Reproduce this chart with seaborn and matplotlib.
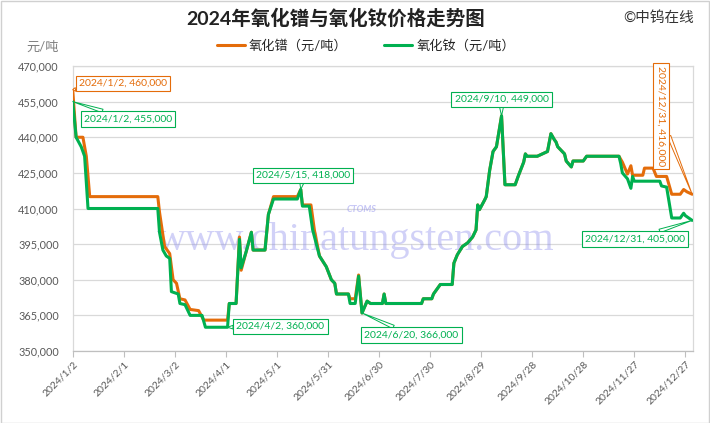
import matplotlib
matplotlib.use("Agg")
import matplotlib.pyplot as plt
import matplotlib.ticker as mticker
from matplotlib.patches import Rectangle
import seaborn as sns
import pandas as pd

# ---------------- data ----------------
title = "2024年氧化镨与氧化钕价格走势图"
series_names = ["氧化镨（元/吨）", "氧化钕（元/吨）"]

pr_dates = [
    "2024-01-02", "2024-01-04", "2024-01-08", "2024-01-10", "2024-01-12",
    "2024-02-21", "2024-02-22", "2024-02-25", "2024-02-28", "2024-03-01", "2024-03-03",
    "2024-03-05", "2024-03-08", "2024-03-11", "2024-03-16", "2024-03-19",
    "2024-04-02", "2024-04-03", "2024-04-07", "2024-04-09", "2024-04-10", "2024-04-13",
    "2024-04-16", "2024-04-17", "2024-04-24", "2024-04-26", "2024-04-29",
    "2024-05-13", "2024-05-15", "2024-05-16", "2024-05-21", "2024-05-23", "2024-05-26", "2024-05-30",
    "2024-06-02", "2024-06-04", "2024-06-05", "2024-06-12", "2024-06-13", "2024-06-16",
    "2024-06-18", "2024-06-20", "2024-06-23", "2024-06-25",
    "2024-07-02", "2024-07-03", "2024-07-04", "2024-07-25", "2024-07-26", "2024-07-31",
    "2024-08-01", "2024-08-05", "2024-08-12", "2024-08-13", "2024-08-15", "2024-08-18",
    "2024-08-21", "2024-08-24", "2024-08-26", "2024-08-27", "2024-08-28", "2024-08-31",
    "2024-09-01", "2024-09-03", "2024-09-05", "2024-09-07", "2024-09-10", "2024-09-12",
    "2024-09-18", "2024-09-20", "2024-09-23", "2024-09-24", "2024-09-25",
    "2024-10-01", "2024-10-07", "2024-10-09", "2024-10-11", "2024-10-12", "2024-10-13",
    "2024-10-17", "2024-10-18", "2024-10-21", "2024-10-22", "2024-10-28", "2024-10-30",
    "2024-11-18", "2024-11-20", "2024-11-23", "2024-11-25", "2024-11-26", "2024-12-02",
    "2024-12-03", "2024-12-08", "2024-12-10", "2024-12-16", "2024-12-19", "2024-12-24",
    "2024-12-26", "2024-12-28", "2024-12-31",
]
pr_prices = [
    460000, 440000, 440000, 432000, 415000,
    415000, 408500, 394000, 391000, 380000, 378500,
    372000, 371500, 367500, 367000, 363000,
    363000, 370000, 370000, 398000, 384000, 392000,
    400000, 392500, 392500, 407500, 415000,
    415000, 418000, 411500, 411500, 401000, 390000, 385500,
    380000, 378500, 374000, 374000, 372000, 372000,
    382000, 366000, 371000, 370000,
    370000, 374000, 370000, 370000, 372000, 372000,
    374000, 378000, 378000, 387000, 390500, 394000,
    395500, 398000, 401000, 411500, 409500, 413500,
    415000, 426000, 434000, 436000, 449000, 420000,
    420000, 424000, 429500, 433000, 432000,
    432000, 434000, 441500, 439000, 438000, 436000,
    433000, 430000, 427500, 430000, 430000, 432000,
    432000, 429500, 424500, 428000, 424000, 424000,
    427000, 427000, 423500, 423500, 416000, 416000,
    418000, 417000, 416000,
]

nd_dates = [
    "2024-01-02", "2024-01-04", "2024-01-07", "2024-01-09", "2024-01-11",
    "2024-02-21", "2024-02-22", "2024-02-24", "2024-02-26", "2024-02-28", "2024-02-29",
    "2024-03-04", "2024-03-05", "2024-03-08", "2024-03-11", "2024-03-18", "2024-03-20",
    "2024-04-02", "2024-04-03", "2024-04-07", "2024-04-09", "2024-04-10", "2024-04-13",
    "2024-04-16", "2024-04-17", "2024-04-24", "2024-04-26", "2024-04-29",
    "2024-05-13", "2024-05-15", "2024-05-16", "2024-05-20", "2024-05-22", "2024-05-26", "2024-05-30",
    "2024-06-02", "2024-06-04", "2024-06-05", "2024-06-12", "2024-06-13", "2024-06-16",
    "2024-06-18", "2024-06-20", "2024-06-23", "2024-06-25",
    "2024-07-02", "2024-07-03", "2024-07-04", "2024-07-25", "2024-07-26", "2024-07-31",
    "2024-08-01", "2024-08-05", "2024-08-12", "2024-08-13", "2024-08-15", "2024-08-18",
    "2024-08-21", "2024-08-24", "2024-08-26", "2024-08-27", "2024-08-28", "2024-08-31",
    "2024-09-01", "2024-09-03", "2024-09-05", "2024-09-07", "2024-09-10", "2024-09-12",
    "2024-09-18", "2024-09-20", "2024-09-23", "2024-09-24", "2024-09-25",
    "2024-10-01", "2024-10-07", "2024-10-09", "2024-10-11", "2024-10-12", "2024-10-13",
    "2024-10-17", "2024-10-18", "2024-10-21", "2024-10-22", "2024-10-28", "2024-10-30",
    "2024-11-18", "2024-11-19", "2024-11-20", "2024-11-23", "2024-11-25", "2024-11-26", "2024-11-27",
    "2024-12-12", "2024-12-13", "2024-12-16", "2024-12-19", "2024-12-24", "2024-12-26",
    "2024-12-27", "2024-12-30", "2024-12-31",
]
nd_prices = [
    455000, 440000, 436000, 432000, 410000,
    410000, 400000, 392500, 390000, 389000, 375000,
    374000, 370000, 369500, 365000, 365000, 360000,
    360000, 370000, 370000, 397000, 385000, 392000,
    400000, 392500, 392500, 407500, 414000,
    414000, 418000, 411000, 411000, 401000, 390000, 385500,
    380000, 378500, 374000, 374000, 370000, 370000,
    381500, 366000, 371000, 370000,
    370000, 374000, 370000, 370000, 372000, 372000,
    374000, 378000, 378000, 387000, 390500, 394000,
    395500, 398000, 401000, 411500, 409500, 413500,
    415000, 426000, 434000, 436000, 449000, 420000,
    420000, 424000, 429500, 433000, 432000,
    432000, 434000, 441500, 439000, 438000, 436000,
    433000, 430000, 427500, 430000, 430000, 432000,
    432000, 429000, 425000, 422500, 418500, 423500, 421500,
    421500, 419500, 419000, 406000, 406000, 408000,
    407000, 405500, 405000,
]

x_tick_dates = ["2024-01-02", "2024-02-01", "2024-03-02", "2024-04-01", "2024-05-01",
                "2024-05-31", "2024-06-30", "2024-07-30", "2024-08-29", "2024-09-28",
                "2024-10-28", "2024-11-27", "2024-12-27"]
x_tick_labels = ["2024/1/2", "2024/2/1", "2024/3/2", "2024/4/1", "2024/5/1",
                 "2024/5/31", "2024/6/30", "2024/7/30", "2024/8/29", "2024/9/28",
                 "2024/10/28", "2024/11/27", "2024/12/27"]
y_ticks = [350000, 365000, 380000, 395000, 410000, 425000, 440000, 455000, 470000]

# labelled points
pr_labels = ["2024-01-02", "2024-12-31"]
nd_labels = ["2024-01-02", "2024-04-02", "2024-05-15", "2024-06-20", "2024-09-10", "2024-12-31"]

# ---------------- style ----------------
ORANGE = "#E46C0A"
GREEN = "#00B050"
GRID = "#D9D9D9"
TXT = "#595959"

sns.set_theme(style="white")
plt.rcParams["font.family"] = ["Lato", "Noto Sans CJK SC", "DejaVu Sans"]

W, H = 710, 423
fig = plt.figure(figsize=(W / 100, H / 100), dpi=100)
fig.patch.set_facecolor("white")
ax = fig.add_axes([72.7 / W, 1 - 351 / H, (693 - 72.7) / W, (351 - 66) / H])

df_pr = pd.DataFrame({"date": pd.to_datetime(pr_dates), "price": pr_prices})
df_nd = pd.DataFrame({"date": pd.to_datetime(nd_dates), "price": nd_prices})

sns.lineplot(data=df_pr, x="date", y="price", color=ORANGE, linewidth=2.2, ax=ax,
             label=series_names[0], zorder=3)
sns.lineplot(data=df_nd, x="date", y="price", color=GREEN, linewidth=2.2, ax=ax,
             label=series_names[1], zorder=4)

ax.set_xlim(pd.Timestamp("2024-01-02"), pd.Timestamp("2024-12-31 12:00"))
ax.set_ylim(y_ticks[0], y_ticks[-1])
ax.set_yticks(y_ticks)
ax.yaxis.set_major_formatter(mticker.FuncFormatter(lambda v, p: f"{v:,.0f}"))
ax.set_xticks(pd.to_datetime(x_tick_dates))
ax.set_xticklabels(x_tick_labels, rotation=45, ha="right", rotation_mode="anchor")
ax.set_xlabel("")
ax.set_ylabel("")

ax.grid(axis="y", color=GRID, linewidth=0.9)
ax.grid(axis="x", visible=False)
for s in ax.spines.values():
    s.set_color(GRID)
    s.set_linewidth(0.9)
ax.spines["bottom"].set_color("#BFBFBF")
ax.tick_params(axis="y", length=0, labelsize=7.8, labelcolor=TXT, pad=10)
ax.tick_params(axis="x", length=4, width=0.8, color="#BFBFBF", direction="out",
               labelsize=7.5, labelcolor=TXT, pad=2, bottom=True)

# legend
ax.legend(loc="center", bbox_to_anchor=(366 / W, 1 - 45 / H),
          bbox_transform=fig.transFigure, ncol=2, frameon=False,
          fontsize=9.5, handlelength=2.1, handletextpad=0.3, columnspacing=2.8)

# titles / texts
fig.text(336 / W, 1 - 18 / H, title, ha="center", va="center", fontsize=14,
         fontweight="bold", color="#222222")
fig.text(694 / W, 1 - 18 / H, "©中钨在线", ha="right", va="center", fontsize=10.5,
         color="#333333")
fig.text(43 / W, 1 - 47 / H, "元/吨", ha="center", va="center", fontsize=9.5, color="#7F7F7F")

# watermark
ax.text(356 / W, 1 - 240 / H, "www.chinatungsten.com", transform=fig.transFigure,
        ha="center", va="center", fontsize=29, family="Liberation Serif",
        color="#8C8CEC", alpha=0.4, zorder=1)
ax.text(362 / W, 1 - 209 / H, "CTOMS", transform=fig.transFigure, ha="center",
        va="center", fontsize=6.5, fontweight="bold", style="italic",
        color="#8C8CEC", alpha=0.5, zorder=1)

# data labels
def callout(date, series_df, color, pos, rot=0):
    d = pd.Timestamp(date)
    v = series_df.loc[series_df["date"] == d, "price"].iloc[0]
    txt = f"{d.year}/{d.month}/{d.day}, {v:,.0f}"
    ax.annotate(txt, xy=(d, v), xytext=(pos[0], H - pos[1]), textcoords="figure pixels",
                ha="center", va="center", fontsize=7.5, color=color, rotation=rot,
                bbox=dict(boxstyle="square,pad=0.3", fc="white", ec=color, lw=0.8),
                arrowprops=dict(arrowstyle="wedge,tail_width=0.35", fc="white", ec=color,
                                lw=0.7, shrinkA=0, shrinkB=0),
                zorder=6, annotation_clip=False)

label_pos_pr = [(123, 83.5), (661, 116)]
label_pos_nd = [(128, 119), (280.5, 326.5), (303, 175.5), (411.5, 335), (501.5, 99.5), (635, 239)]

callout(pr_labels[0], df_pr, ORANGE, label_pos_pr[0])
callout(pr_labels[1], df_pr, ORANGE, label_pos_pr[1], rot=270)
for dte, pos in zip(nd_labels, label_pos_nd):
    callout(dte, df_nd, GREEN, pos)

# chart border
fig.add_artist(Rectangle((0.5 / W, 0.5 / H), 1 - 1.5 / W, 1 - 1.5 / H,
                         transform=fig.transFigure, fill=False, ec="#D0D0D0", lw=1))

fig.savefig("out.png", dpi=100, facecolor="white")
